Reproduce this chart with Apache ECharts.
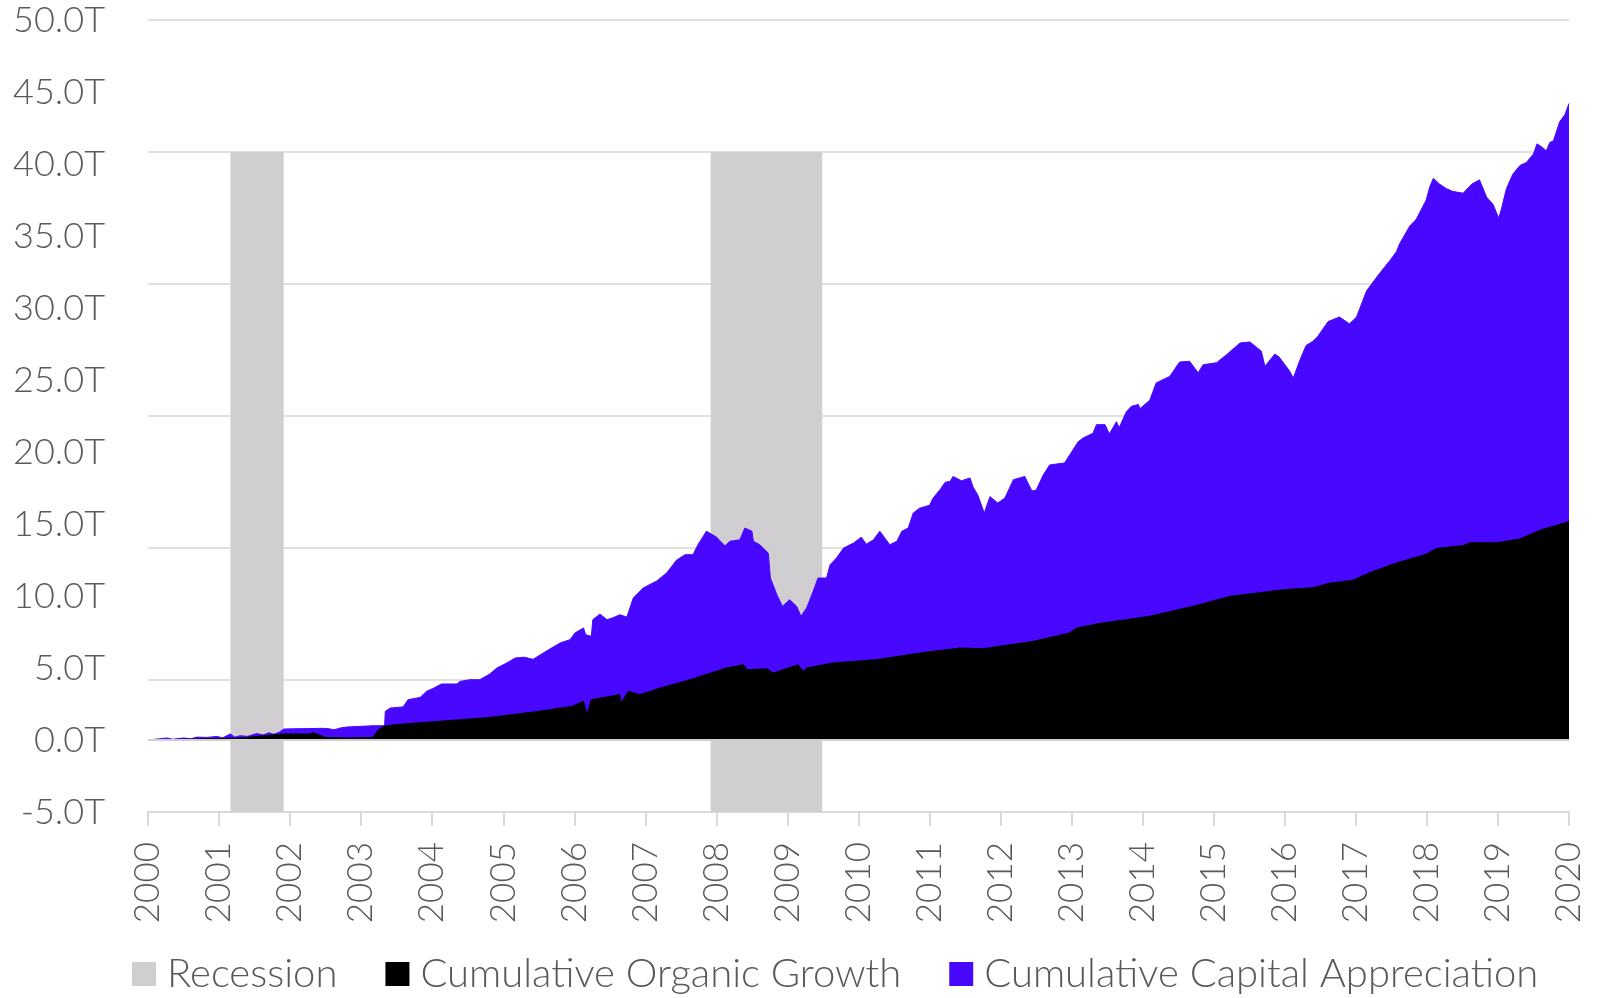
<!DOCTYPE html>
<html>
<head>
<meta charset="utf-8">
<script src="https://cdn.jsdelivr.net/npm/echarts@6/dist/echarts.min.js"></script>
<style>
  html, body { margin: 0; padding: 0; background: #ffffff; }
  #chart { width: 1598px; height: 998px; }
</style>
</head>
<body>
<div id="chart"></div>
<script>
// ---- data (x in decimal years, values in trillions) ----
const yTicks = [-5, 0, 5, 10, 15, 20, 25, 30, 35, 40, 45, 50];
const xYears = [2000, 2001, 2002, 2003, 2004, 2005, 2006, 2007, 2008, 2009, 2010,
                2011, 2012, 2013, 2014, 2015, 2016, 2017, 2018, 2019, 2020];

// recessions: start / end (decimal year)
const recessionStart = [2001.16, 2007.92];
const recessionEnd   = [2001.91, 2009.49];

// top of the stack (organic growth + capital appreciation)
const capitalX = [
  2000.00, 2000.10, 2000.27, 2000.35, 2000.50, 2000.60, 2000.69, 2000.83, 2000.97, 2001.05,
  2001.16, 2001.22, 2001.30, 2001.40, 2001.53, 2001.62, 2001.70, 2001.77, 2001.80, 2001.85,
  2001.91, 2002.05, 2002.24, 2002.47, 2002.55, 2002.61, 2002.64, 2002.67, 2002.72, 2002.80,
  2003.00, 2003.17, 2003.33, 2003.34, 2003.41, 2003.59, 2003.66, 2003.83, 2003.92, 2004.02,
  2004.13, 2004.35, 2004.39, 2004.53, 2004.67, 2004.81, 2004.91, 2005.05, 2005.17, 2005.30,
  2005.42, 2005.55, 2005.65, 2005.80, 2005.94, 2006.01, 2006.13, 2006.16, 2006.24, 2006.26,
  2006.36, 2006.46, 2006.55, 2006.64, 2006.74, 2006.83, 2006.97, 2007.16, 2007.30, 2007.44,
  2007.56, 2007.67, 2007.74, 2007.86, 2008.00, 2008.12, 2008.19, 2008.33, 2008.40, 2008.50,
  2008.52, 2008.61, 2008.73, 2008.76, 2008.85, 2008.93, 2009.03, 2009.13, 2009.19, 2009.27,
  2009.36, 2009.43, 2009.55, 2009.60, 2009.69, 2009.79, 2009.93, 2010.04, 2010.11, 2010.21,
  2010.30, 2010.44, 2010.54, 2010.61, 2010.70, 2010.77, 2010.86, 2011.00, 2011.05, 2011.15,
  2011.22, 2011.29, 2011.33, 2011.45, 2011.57, 2011.61, 2011.68, 2011.77, 2011.85, 2011.96,
  2012.06, 2012.18, 2012.34, 2012.44, 2012.50, 2012.60, 2012.69, 2012.90, 2013.02, 2013.09,
  2013.16, 2013.30, 2013.35, 2013.47, 2013.53, 2013.63, 2013.67, 2013.77, 2013.84, 2013.94,
  2013.96, 2014.10, 2014.19, 2014.38, 2014.52, 2014.66, 2014.78, 2014.85, 2015.04, 2015.18,
  2015.37, 2015.51, 2015.67, 2015.72, 2015.86, 2015.92, 2016.07, 2016.12, 2016.21, 2016.30,
  2016.40, 2016.46, 2016.61, 2016.77, 2016.91, 2017.01, 2017.15, 2017.33, 2017.48, 2017.57,
  2017.62, 2017.76, 2017.85, 2017.99, 2018.04, 2018.09, 2018.18, 2018.27, 2018.36, 2018.51,
  2018.63, 2018.74, 2018.84, 2018.93, 2019.01, 2019.05, 2019.12, 2019.21, 2019.31, 2019.40,
  2019.50, 2019.55, 2019.64, 2019.68, 2019.73, 2019.78, 2019.87, 2019.94, 2020.00
];
const capitalTop = [
  0.00, 0.05, 0.14, 0.05, 0.14, 0.08, 0.20, 0.18, 0.25, 0.15,
  0.42, 0.20, 0.30, 0.25, 0.45, 0.35, 0.50, 0.40, 0.45, 0.55,
  0.76, 0.78, 0.79, 0.81, 0.78, 0.72, 0.74, 0.78, 0.85, 0.90,
  0.95, 0.99, 0.99, 1.99, 2.22, 2.30, 2.80, 2.96, 3.38, 3.60,
  3.89, 3.89, 4.07, 4.19, 4.19, 4.58, 5.00, 5.35, 5.70, 5.75,
  5.60, 6.00, 6.30, 6.74, 6.97, 7.43, 7.78, 7.31, 7.20, 8.35,
  8.75, 8.35, 8.50, 8.70, 8.54, 9.86, 10.56, 11.04, 11.60, 12.50,
  12.87, 12.87, 13.56, 14.50, 14.10, 13.47, 13.80, 13.90, 14.72, 14.50,
  13.80, 13.56, 12.98, 11.25, 10.10, 9.28, 9.74, 9.28, 8.59, 9.17,
  10.30, 11.25, 11.25, 12.17, 12.64, 13.33, 13.68, 14.08, 13.60, 13.90,
  14.50, 13.56, 13.80, 14.50, 14.72, 15.76, 16.10, 16.30, 16.80, 17.40,
  17.90, 17.96, 18.30, 18.00, 18.20, 17.60, 17.00, 15.76, 16.90, 16.46,
  16.80, 18.08, 18.30, 17.30, 17.35, 18.40, 19.10, 19.24, 20.16, 20.70,
  20.97, 21.30, 21.90, 21.90, 21.25, 22.10, 21.70, 22.80, 23.17, 23.30,
  23.00, 23.60, 24.80, 25.25, 26.25, 26.30, 25.50, 26.06, 26.20, 26.76,
  27.57, 27.64, 27.00, 25.95, 26.80, 26.60, 25.60, 25.14, 26.35, 27.40,
  27.70, 28.00, 29.06, 29.37, 28.90, 29.37, 31.18, 32.38, 33.30, 33.90,
  34.50, 35.70, 36.16, 37.50, 38.40, 39.00, 38.60, 38.30, 38.10, 37.97,
  38.60, 38.90, 37.70, 37.20, 36.25, 36.90, 38.30, 39.30, 39.90, 40.10,
  40.70, 41.40, 41.10, 40.90, 41.50, 41.60, 42.95, 43.40, 44.20
];

// cumulative organic growth
const organicX = [
  2000.00, 2000.50, 2001.00, 2001.30, 2001.91, 2002.27, 2002.33, 2002.50, 2002.80, 2003.17,
  2003.24, 2003.34, 2003.64, 2004.11, 2004.81, 2005.50, 2005.97, 2006.13, 2006.18, 2006.24,
  2006.64, 2006.66, 2006.76, 2006.92, 2007.21, 2007.63, 2008.14, 2008.38, 2008.43, 2008.71,
  2008.80, 2009.15, 2009.22, 2009.27, 2009.64, 2010.25, 2010.72, 2010.96, 2011.43, 2011.75,
  2012.46, 2012.97, 2013.07, 2013.40, 2014.10, 2014.80, 2015.23, 2015.60, 2015.98, 2016.40,
  2016.63, 2016.96, 2017.19, 2017.57, 2017.99, 2018.13, 2018.51, 2018.60, 2018.98, 2019.31,
  2019.59, 2020.00
];
const organicVal = [
  0.00, 0.05, 0.10, 0.14, 0.42, 0.42, 0.50, 0.18, 0.14, 0.18,
  0.72, 0.99, 1.13, 1.30, 1.57, 1.99, 2.34, 2.69, 1.76, 2.80,
  3.15, 2.57, 3.38, 3.15, 3.61, 4.19, 5.00, 5.23, 4.88, 4.95,
  4.65, 5.23, 4.77, 5.00, 5.35, 5.58, 5.93, 6.11, 6.39, 6.34,
  6.85, 7.43, 7.78, 8.10, 8.59, 9.40, 9.98, 10.20, 10.44, 10.58,
  10.89, 11.10, 11.61, 12.30, 12.90, 13.30, 13.50, 13.70, 13.70, 13.96,
  14.57, 15.17
];

// ---- styles ----
const PURPLE = '#4808ff';
const BLACK = '#000000';
const GREY_REC = '#d0ced1';
const TEXT = '#595959';
const FONT = 'Lato, "Open Sans", "Noto Sans", sans-serif';

const pairs = (xs, ys) => xs.map((x, i) => [x, ys[i]]);

const chart = echarts.init(document.getElementById('chart'), null, { renderer: 'canvas' });

chart.setOption({
  animation: false,
  backgroundColor: '#ffffff',
  textStyle: { fontFamily: FONT },
  grid: { left: 148, right: 29, top: 20, bottom: 186, containLabel: false },
  legend: {
    top: 949,
    left: 127,
    itemWidth: 24,
    itemHeight: 24,
    itemGap: 48,
    textStyle: { fontSize: 40, color: TEXT, fontFamily: FONT, fontWeight: 300, padding: [0, 0, 0, 6] },
    data: [
      { name: 'Recession', icon: 'rect', itemStyle: { color: GREY_REC } },
      { name: 'Cumulative Organic Growth', icon: 'rect', itemStyle: { color: BLACK } },
      { name: 'Cumulative Capital Appreciation', icon: 'rect', itemStyle: { color: PURPLE } }
    ]
  },
  xAxis: {
    type: 'value',
    min: xYears[0],
    max: xYears[xYears.length - 1],
    interval: 1,
    axisLine: { onZero: false, show: true, lineStyle: { color: '#d9d9d9', width: 2 } },
    axisTick: { show: true, length: 14, lineStyle: { color: '#d9d9d9', width: 2 } },
    splitLine: { show: false },
    axisLabel: {
      rotate: 90,
      margin: 30,
      fontSize: 35,
      fontWeight: 300,
      color: TEXT,
      fontFamily: FONT,
      formatter: v => String(Math.round(v))
    }
  },
  yAxis: [
    {
      type: 'value',
      min: yTicks[0],
      max: yTicks[yTicks.length - 1],
      interval: 5,
      axisLine: { show: false },
      axisTick: { show: false },
      splitLine: { show: false },
      axisLabel: {
        margin: 43,
        fontSize: 36,
        fontWeight: 300,
        color: TEXT,
        fontFamily: FONT,
        formatter: v => v.toFixed(1) + 'T'
      }
    },
    {
      type: 'value',
      min: 0,
      max: 1.2,
      interval: 0.2,
      position: 'right',
      axisLine: { show: false },
      axisTick: { show: false },
      axisLabel: { show: false },
      splitLine: { show: true, lineStyle: { color: '#e0e0e0', width: 2 } }
    }
  ],
  series: [
    {
      name: 'Recession',
      type: 'line',
      yAxisIndex: 1,
      data: [],
      z: 1,
      itemStyle: { color: GREY_REC },
      markArea: {
        silent: true,
        itemStyle: { color: GREY_REC, opacity: 1 },
        data: recessionStart.map((s, i) => [
          { xAxis: s, yAxis: 0 },
          { xAxis: recessionEnd[i], yAxis: 1 }
        ])
      }
    },
    {
      name: 'Cumulative Capital Appreciation',
      type: 'line',
      yAxisIndex: 0,
      z: 3,
      showSymbol: false,
      symbol: 'none',
      sampling: null,
      data: pairs(capitalX, capitalTop),
      itemStyle: { color: PURPLE },
      lineStyle: { color: PURPLE, width: 1 },
      areaStyle: { color: PURPLE, opacity: 1 }
    },
    {
      name: 'Cumulative Organic Growth',
      type: 'line',
      yAxisIndex: 0,
      z: 4,
      showSymbol: false,
      symbol: 'none',
      data: pairs(organicX, organicVal),
      itemStyle: { color: BLACK },
      lineStyle: { color: BLACK, width: 1 },
      areaStyle: { color: BLACK, opacity: 1 },
      markLine: {
        silent: true,
        symbol: 'none',
        label: { show: false },
        lineStyle: { color: '#cfcfcf', width: 2, type: 'solid' },
        data: [{ yAxis: 0 }]
      }
    }
  ]
});
</script>
</body>
</html>
